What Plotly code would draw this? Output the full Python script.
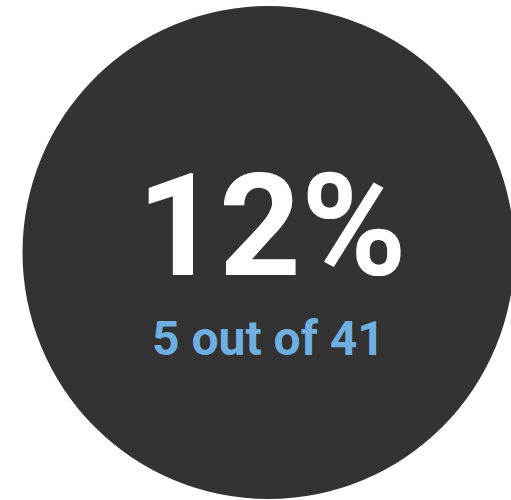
import plotly.graph_objects as go

count = 5
total = 41
pct_label = f"{round(count / total * 100)}%"
sub_label = f"{count} out of {total}"

W, H = 511, 500
fig = go.Figure()
fig.add_shape(type="circle", xref="x", yref="y",
              x0=268.5 - 246, x1=268.5 + 246, y0=252.5 - 246.5, y1=252.5 + 246.5,
              fillcolor="#333333", line=dict(width=0), layer="below")
fig.add_annotation(x=272, y=226, xref="x", yref="y", text=f"<b>{pct_label}</b>",
                   showarrow=False, xanchor="center", yanchor="middle",
                   font=dict(family="Roboto", size=143, color="#ffffff"))
fig.add_annotation(x=268, y=338, xref="x", yref="y", text=f"<b>{sub_label}</b>",
                   showarrow=False, xanchor="center", yanchor="middle",
                   font=dict(family="Roboto", size=48, color="#6fafe0"))
fig.update_xaxes(range=[0, W], visible=False, fixedrange=True)
fig.update_yaxes(range=[H, 0], visible=False, fixedrange=True)
fig.update_layout(width=W, height=H, margin=dict(l=0, r=0, t=0, b=0),
                  paper_bgcolor="#ffffff", plot_bgcolor="#ffffff", showlegend=False)
fig.write_html("out.html", config={"displayModeBar": False},
               post_script="document.body.style.margin='0';document.body.style.overflow='hidden';")
